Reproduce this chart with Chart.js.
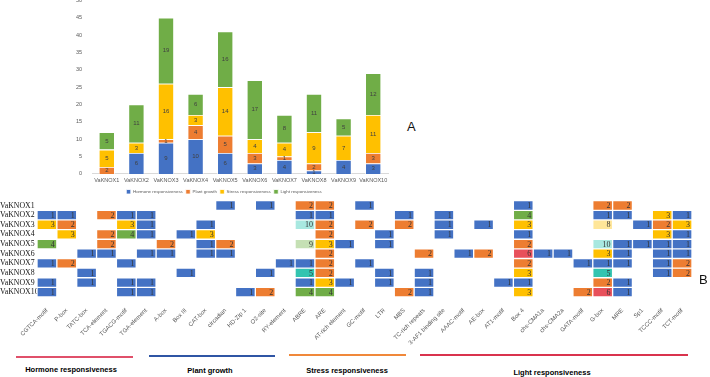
<!DOCTYPE html>
<html>
<head>
<meta charset="utf-8">
<script src="https://cdn.jsdelivr.net/npm/chart.js@4.4.1/dist/chart.umd.min.js"></script>
<style>
  body { margin: 0; background: #fff; width: 710px; height: 377px; position: relative; overflow: hidden; font-family: 'Liberation Sans', Arial, sans-serif; }
  #wrapA { position: absolute; left: 60px; top: -5px; width: 345px; height: 209px; }
  #wrapB { position: absolute; left: 0; top: 193px; width: 710px; height: 157px; }
  .panel { position: absolute; font-size: 13px; color: #111; }
  .grp { position: absolute; height: 0; border-top: 2px solid; }
  .grpText { position: absolute; font-weight: bold; font-size: 7.5px; color: #000; transform: translateX(-50%); white-space: nowrap; }
</style>
</head>
<body>
<div id="wrapA"><canvas id="barChart"></canvas></div>
<div id="wrapB"><canvas id="heatChart"></canvas></div>

<div class="panel" style="left:407px;top:119px;">A</div>
<div class="panel" style="left:699px;top:272px;">B</div>

<div class="grp" style="left:16px;top:356px;width:117px;border-color:#e0506a;"></div>
<div class="grp" style="left:149px;top:355px;width:126px;border-color:#2f55a4;"></div>
<div class="grp" style="left:289px;top:354px;width:117px;border-color:#f0883a;"></div>
<div class="grp" style="left:420px;top:354px;width:268px;border-color:#d9334d;"></div>
<div class="grpText" style="left:71px;top:365px;">Hormone responsiveness</div>
<div class="grpText" style="left:210px;top:366px;">Plant growth</div>
<div class="grpText" style="left:347px;top:366px;">Stress responsiveness</div>
<div class="grpText" style="left:552px;top:368px;">Light responsiveness</div>

<script>
// A: elementos por categoria
const genes = ['VaKNOX1', 'VaKNOX2', 'VaKNOX3', 'VaKNOX4', 'VaKNOX5', 'VaKNOX6', 'VaKNOX7', 'VaKNOX8', 'VaKNOX9', 'VaKNOX10'];
const hormone = [0, 6, 9, 10, 6, 3, 4, 1, 4, 3];
const plantGrowth = [2, 0, 1, 4, 5, 3, 1, 2, 0, 3];
const stress = [5, 3, 16, 3, 14, 4, 4, 9, 7, 11];
const light = [5, 11, 19, 6, 16, 17, 8, 11, 5, 12];

// B: contagem de cada motivo por gene
const motifs = ['CGTCA-motif', 'P-box', 'TATC-box', 'TCA-element', 'TGACG-motif', 'TGA-element',
  'A-box', 'Box III', 'CAT-box', 'circadian', 'HD-Zip 1', 'O2-site', 'RY-element',
  'ABRE', 'ARE', 'AT-rich element', 'GC-motif', 'LTR', 'MBS', 'TC-rich repeats',
  '3-AF1 binding site', 'AAAC-motif', 'AE-box', 'AT1-motif', 'Box 4', 'chs-CMA1a', 'chs-CMA2a',
  'GATA-motif', 'G-box', 'MRE', 'Sp1', 'TCCC-motif', 'TCT-motif'];
const motifCounts = [
  [0,0,0,0,0,0, 0,0,0,1,0,1,0, 2,2,0,1,0,0,0, 0,0,0,0,1,0,0,0,2,2,0,0,0],
  [1,1,0,2,1,1, 0,0,0,0,0,0,0, 1,1,0,0,0,1,0, 1,0,0,0,4,0,0,0,1,1,0,3,1],
  [3,2,0,0,3,1, 0,0,1,0,0,0,0, 10,2,0,2,0,2,0, 1,0,1,0,3,0,0,0,8,0,1,2,3],
  [0,3,0,2,4,1, 0,1,3,0,0,0,0, 0,2,0,0,1,0,0, 1,0,0,0,1,0,0,0,0,0,0,3,1],
  [4,0,0,2,0,0, 2,0,1,2,0,0,0, 9,3,1,0,1,0,0, 0,0,0,0,2,0,0,0,10,1,1,1,1],
  [0,0,1,1,0,1, 1,0,1,1,0,0,0, 0,2,0,0,0,0,2, 0,1,2,0,6,1,1,0,3,1,0,1,1],
  [1,2,0,0,1,0, 0,0,0,0,0,0,1, 1,2,0,1,0,0,0, 0,0,0,0,2,0,0,1,1,1,0,1,2],
  [0,0,1,0,0,0, 0,1,0,0,0,1,0, 5,2,0,0,1,0,1, 0,0,0,0,3,0,0,0,5,0,0,1,2],
  [1,0,1,0,1,1, 0,0,0,0,0,0,0, 1,3,1,0,1,0,1, 0,0,0,1,1,0,0,0,2,1,0,0,0],
  [1,0,0,0,1,1, 0,0,0,0,1,2,0, 4,4,0,0,0,2,1, 0,0,0,0,3,0,0,2,6,1,0,0,0]
];

const countColors = { 1: '#4472c4', 2: '#ed7d31', 3: '#ffc000', 4: '#70ad47', 5: '#33c4b0',
  6: '#e8505b', 8: '#ffe699', 9: '#c5e0b4', 10: '#a8e8e0' };

const axisFont = { family: "'Liberation Sans', Arial, sans-serif", size: 5.5 };

// rótulos dentro das barras empilhadas
const stackLabels = {
  id: 'stackLabels',
  afterDatasetsDraw(chart) {
    const ctx = chart.ctx;
    ctx.save();
    ctx.font = "6px 'Liberation Sans', Arial, sans-serif";
    ctx.fillStyle = '#404040';
    ctx.textAlign = 'center';
    ctx.textBaseline = 'middle';
    chart.data.datasets.forEach((ds, di) => {
      chart.getDatasetMeta(di).data.forEach((bar, i) => {
        const v = ds.data[i];
        if (!v) return;
        const p = bar.getProps(['x', 'y', 'base'], true);
        ctx.fillText(v, p.x, (p.y + p.base) / 2);
      });
    });
    ctx.restore();
  }
};

// números nas células do mapa
const cellLabels = {
  id: 'cellLabels',
  afterDatasetsDraw(chart) {
    const ctx = chart.ctx;
    ctx.save();
    ctx.font = "8px 'Liberation Serif', serif";
    ctx.fillStyle = '#333';
    ctx.textAlign = 'right';
    ctx.textBaseline = 'middle';
    chart.data.datasets.forEach((ds, di) => {
      chart.getDatasetMeta(di).data.forEach((bar, i) => {
        const v = ds.counts[i];
        if (!v) return;
        const p = bar.getProps(['x', 'y', 'base', 'width'], true);
        ctx.fillText(v, p.x + p.width / 2 - 2, (p.y + p.base) / 2 + 0.5);
      });
    });
    ctx.restore();
  }
};

document.addEventListener('DOMContentLoaded', function() {
  const seg = (label, data, color) => ({
    label: label, data: data, backgroundColor: color,
    borderColor: '#ffffff', borderWidth: 0.8,
    barPercentage: 0.54, categoryPercentage: 1
  });

  new Chart(document.getElementById('barChart'), {
    type: 'bar',
    data: {
      labels: genes,
      datasets: [
        seg('Hormone responsiveness', hormone, '#4472c4'),
        seg('Plant growth', plantGrowth, '#ed7d31'),
        seg('Stress responsiveness', stress, '#ffc000'),
        seg('Light responsiveness', light, '#70ad47')
      ]
    },
    options: {
      responsive: true,
      maintainAspectRatio: false,
      animation: false,
      layout: { padding: { top: 0, right: 17, left: 0, bottom: 0 } },
      plugins: {
        legend: {
          position: 'bottom',
          labels: {
            boxWidth: 4.5, boxHeight: 4.5, padding: 3, color: '#595959',
            font: { family: "'Liberation Sans', Arial, sans-serif", size: 4.4 }
          }
        },
        tooltip: { enabled: false }
      },
      scales: {
        x: {
          stacked: true,
          grid: { display: true, drawOnChartArea: false, drawTicks: false },
          border: { display: true, color: '#d9d9d9' },
          ticks: { color: '#595959', font: axisFont, maxRotation: 0, autoSkip: false, padding: 3 }
        },
        y: {
          stacked: true,
          min: 0,
          max: 50,
          grid: { display: false },
          border: { display: false },
          ticks: { stepSize: 5, color: '#595959', font: axisFont, padding: 2 },
          afterFit: s => { s.width = 32; }
        }
      }
    },
    plugins: [stackLabels]
  });

  new Chart(document.getElementById('heatChart'), {
    type: 'bar',
    data: {
      labels: motifs,
      datasets: motifCounts.map((row, r) => ({
        label: genes[r],
        counts: row,
        data: row.map(v => v ? [r, r + 1] : null),
        backgroundColor: row.map(v => countColors[v] || 'rgba(0,0,0,0)'),
        borderColor: 'rgba(255,255,255,0.35)',
        borderWidth: 1,
        borderSkipped: false,
        grouped: false,
        barPercentage: 1,
        categoryPercentage: 1
      }))
    },
    options: {
      responsive: true,
      maintainAspectRatio: false,
      animation: false,
      layout: { padding: { top: 0, right: 18, left: 0, bottom: 0 } },
      plugins: { legend: { display: false }, tooltip: { enabled: false } },
      scales: {
        x: {
          grid: { display: false },
          border: { display: false },
          ticks: {
            color: '#595959', font: { family: "'Liberation Sans', Arial, sans-serif", size: 6 },
            minRotation: 45, maxRotation: 45, autoSkip: false, padding: 2
          },
          afterFit: s => { s.height = 53; }
        },
        y: {
          min: 0,
          max: genes.length,
          reverse: true,
          grid: { display: false },
          border: { display: false },
          afterBuildTicks: s => { s.ticks = genes.map((g, i) => ({ value: i + 0.5 })); },
          ticks: {
            color: '#111', crossAlign: 'far', autoSkip: false,
            font: { family: "'Liberation Serif', serif", size: 7.8 },
            callback: v => genes[Math.floor(v)]
          },
          afterFit: s => { s.width = 37; }
        }
      }
    },
    plugins: [cellLabels]
  });
});
</script>
</body>
</html>
